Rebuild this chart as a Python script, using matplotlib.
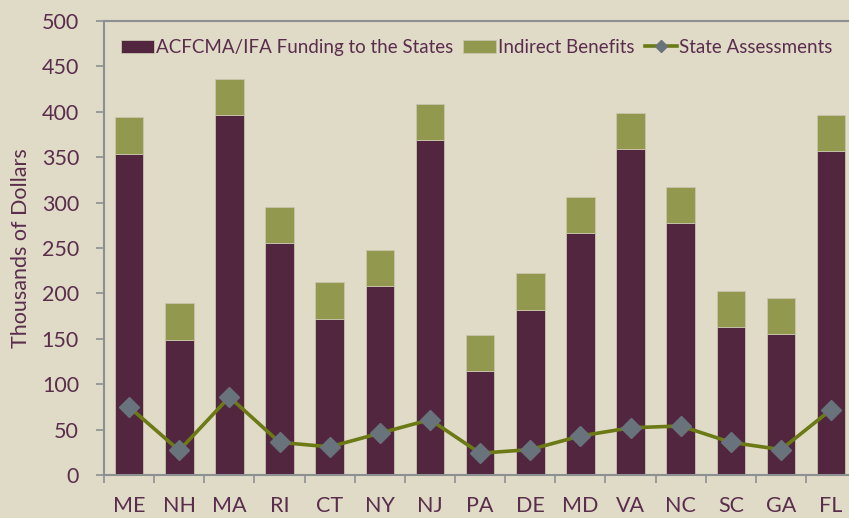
import numpy as np
import matplotlib.pyplot as plt
from matplotlib.ticker import FixedLocator

# data (thousands of dollars)
states = ["ME", "NH", "MA", "RI", "CT", "NY", "NJ", "PA", "DE", "MD", "VA", "NC", "SC", "GA", "FL"]
funding = [354, 149, 396, 255, 172, 208, 369, 114, 182, 266, 359, 277, 163, 155, 357]
indirect = [40, 40, 40, 40, 40, 40, 40, 40, 40, 40, 40, 40, 40, 40, 40]
assessments = [75, 27, 86, 36, 31, 46, 61, 24, 28, 43, 52, 54, 36, 28, 72]

BG = "#E0DBC7"
PURPLE = "#52263F"
OLIVE = "#93984F"
LINE = "#6B7A14"
MARK = "#68737C"
TEXT = "#5A2D4D"
AXIS = "#8C9090"

plt.rcParams["font.family"] = ["Lato", "DejaVu Sans"]

fig = plt.figure(figsize=(8.49, 5.18), dpi=100, facecolor=BG)
ax = fig.add_axes([0.1225, 0.083, 0.886, 0.8765], facecolor=BG)

x = np.arange(len(states))
b1 = ax.bar(x, funding, width=0.57, color=PURPLE, edgecolor="#C9C4AE", linewidth=0.6,
            label="ACFCMA/IFA Funding to the States", zorder=2)
b2 = ax.bar(x, indirect, bottom=funding, width=0.57, color=OLIVE, edgecolor="#C9C4AE",
            linewidth=0.6, label="Indirect Benefits", zorder=2)
ln, = ax.plot(x, assessments, color=LINE, linewidth=2.6, marker="D", markersize=10,
              markerfacecolor=MARK, markeredgecolor=MARK, label="State Assessments", zorder=3)

ax.set_xlim(-0.5, len(states) - 0.5)
ax.set_ylim(0, 500)
ax.set_yticks(range(0, 501, 50))

ax.set_xticks(x)
ax.set_xticklabels(states)
ax.xaxis.set_minor_locator(FixedLocator(np.arange(-0.5, len(states), 1.0)))
ax.tick_params(axis="x", which="major", length=0, pad=15, labelsize=15.5, colors=TEXT)
ax.tick_params(axis="x", which="minor", length=6, width=1.2, color=AXIS, direction="out")
ax.tick_params(axis="y", length=6, width=1.2, color=AXIS, labelsize=15.5, labelcolor=TEXT, pad=12)

for side in ["left", "bottom", "top"]:
    ax.spines[side].set_color(AXIS)
    ax.spines[side].set_linewidth(1.5)
ax.spines["right"].set_visible(False)

ax.set_ylabel("Thousands of Dollars", fontsize=15.5, color=TEXT, labelpad=8)

leg = ax.legend([b1, b2, ln], [b1.get_label(), b2.get_label(), ln.get_label()],
                loc="upper left", bbox_to_anchor=(0.005, 0.99), ncol=3, frameon=False,
                fontsize=13.5, handlelength=1.75, handletextpad=0.1, columnspacing=0.55,
                borderaxespad=0.3)
for t in leg.get_texts():
    t.set_color(TEXT)
leg.legend_handles[2].set_markersize(6)

fig.savefig("out.png", dpi=100, facecolor=BG)
